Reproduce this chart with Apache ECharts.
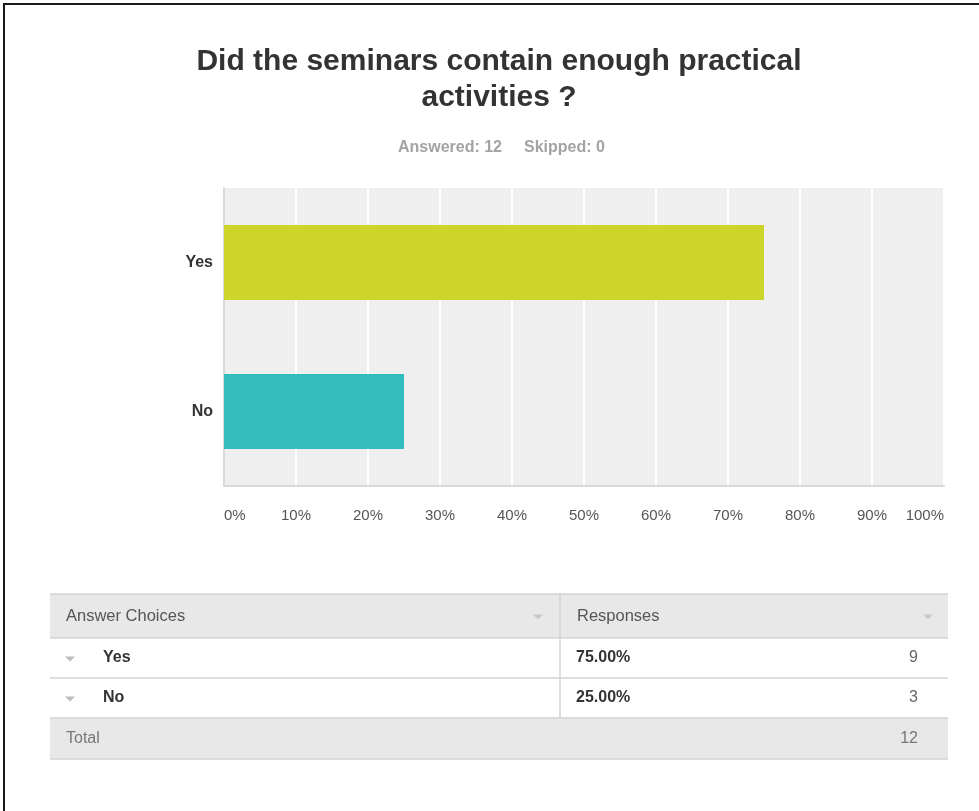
<!DOCTYPE html>
<html>
<head>
<meta charset="utf-8">
<script src="https://cdn.jsdelivr.net/npm/echarts@6/dist/echarts.min.js"></script>
<style>
  html, body { margin: 0; padding: 0; background: #fff; }
  #main { width: 979px; height: 811px; }
</style>
</head>
<body>
<div id="main"></div>
<script>
// survey data
var questionLines = ['Did the seminars contain enough practical', 'activities ?'];
var choices = ['Yes', 'No'];
var percents = [75, 25];
var counts = [9, 3];
var answered = 12;
var skipped = 0;
var tableHeaders = ['Answer Choices', 'Responses'];

var barColors = ['#cdd42a', '#32bcbc'];
var FONT = '"Liberation Sans", Arial, sans-serif';

function initChart() {
    var myChart = echarts.init(document.getElementById('main'));

    // table geometry
    var tblLeft = 50, tblRight = 948, colX = 560;
    var rowY = [594, 638, 678, 718, 759];  // header, rows, total

    var g = [];
    // outer frame of screenshot
    g.push({ type: 'rect', shape: { x: 4, y: 4, width: 1000, height: 840 },
        style: { fill: 'none', stroke: '#1a1a1a', lineWidth: 2 } });

    // title and subtitle
    questionLines.forEach(function (t, i) {
        g.push({ type: 'text', x: 499, y: 62 + i * 36,
            style: { text: t, font: 'bold 30px ' + FONT, fill: '#333', align: 'center', verticalAlign: 'middle' } });
    });
    g.push({ type: 'text', x: 502, y: 148,
        style: { text: 'Answered: ' + answered, font: 'bold 16px ' + FONT, fill: '#a3a3a3', align: 'right', verticalAlign: 'middle' } });
    g.push({ type: 'text', x: 524, y: 148,
        style: { text: 'Skipped: ' + skipped, font: 'bold 16px ' + FONT, fill: '#a3a3a3', align: 'left', verticalAlign: 'middle' } });

    // table backgrounds
    g.push({ type: 'rect', shape: { x: tblLeft, y: rowY[0], width: tblRight - tblLeft, height: rowY[1] - rowY[0] },
        style: { fill: '#e8e8e8' } });
    g.push({ type: 'rect', shape: { x: tblLeft, y: rowY[3], width: tblRight - tblLeft, height: rowY[4] - rowY[3] },
        style: { fill: '#e8e8e8' } });
    rowY.forEach(function (y) {
        g.push({ type: 'line', shape: { x1: tblLeft, y1: y, x2: tblRight, y2: y },
            style: { stroke: '#d3d3d3', lineWidth: 1.5 } });
    });
    g.push({ type: 'line', shape: { x1: colX, y1: rowY[0], x2: colX, y2: rowY[3] },
        style: { stroke: '#d3d3d3', lineWidth: 1.5 } });

    function tri(cx, cy, color) {
        return { type: 'polygon', shape: { points: [[cx - 5, cy - 2.5], [cx + 5, cy - 2.5], [cx, cy + 2.5]] },
            style: { fill: color } };
    }

    // header
    var hy = (rowY[0] + rowY[1]) / 2;
    g.push({ type: 'text', x: 66, y: hy,
        style: { text: tableHeaders[0], font: '16.5px ' + FONT, fill: '#555', verticalAlign: 'middle' } });
    g.push({ type: 'text', x: 577, y: hy,
        style: { text: tableHeaders[1], font: '16.5px ' + FONT, fill: '#555', verticalAlign: 'middle' } });
    g.push(tri(538, hy + 1, '#c8c8c8'));
    g.push(tri(928, hy + 1, '#c8c8c8'));

    // rows
    choices.forEach(function (c, i) {
        var cy = (rowY[i + 1] + rowY[i + 2]) / 2;
        g.push(tri(70, cy + 1, '#bdbdbd'));
        g.push({ type: 'text', x: 103, y: cy,
            style: { text: c, font: 'bold 16px ' + FONT, fill: '#333', verticalAlign: 'middle' } });
        g.push({ type: 'text', x: 576, y: cy,
            style: { text: percents[i].toFixed(2) + '%', font: 'bold 16px ' + FONT, fill: '#333', verticalAlign: 'middle' } });
        g.push({ type: 'text', x: 918, y: cy,
            style: { text: String(counts[i]), font: '16px ' + FONT, fill: '#666', align: 'right', verticalAlign: 'middle' } });
    });

    // total
    var ty = (rowY[3] + rowY[4]) / 2;
    var total = counts.reduce(function (a, b) { return a + b; }, 0);
    g.push({ type: 'text', x: 66, y: ty,
        style: { text: 'Total', font: '16px ' + FONT, fill: '#777', verticalAlign: 'middle' } });
    g.push({ type: 'text', x: 918, y: ty,
        style: { text: String(total), font: '16px ' + FONT, fill: '#777', align: 'right', verticalAlign: 'middle' } });

    var option = {
        backgroundColor: '#fff',
        animation: false,
        grid: {
            left: 224, top: 188, width: 720, height: 298,
            show: true, backgroundColor: '#efefef', borderWidth: 0
        },
        xAxis: {
            type: 'value', min: 0, max: 100, interval: 10,
            axisLine: { show: true, lineStyle: { color: '#d9d9d9', width: 2 } },
            axisTick: { show: false },
            splitLine: { show: true, lineStyle: { color: '#fff', width: 2 } },
            axisLabel: {
                formatter: '{value}%', fontFamily: FONT, fontSize: 15, color: '#555', margin: 22,
                alignMinLabel: 'left', alignMaxLabel: 'right'
            }
        },
        yAxis: {
            type: 'category', data: choices, inverse: true,
            axisLine: { show: true, lineStyle: { color: '#d9d9d9', width: 2 } },
            axisTick: { show: false },
            splitLine: { show: false },
            axisLabel: { fontFamily: FONT, fontSize: 16, fontWeight: 'bold', color: '#333', margin: 11 }
        },
        series: [{
            type: 'bar',
            barWidth: 75,
            data: percents.map(function (v, i) {
                return { value: v, itemStyle: { color: barColors[i] } };
            })
        }],
        graphic: g
    };

    myChart.setOption(option);
}

initChart();
</script>
</body>
</html>
